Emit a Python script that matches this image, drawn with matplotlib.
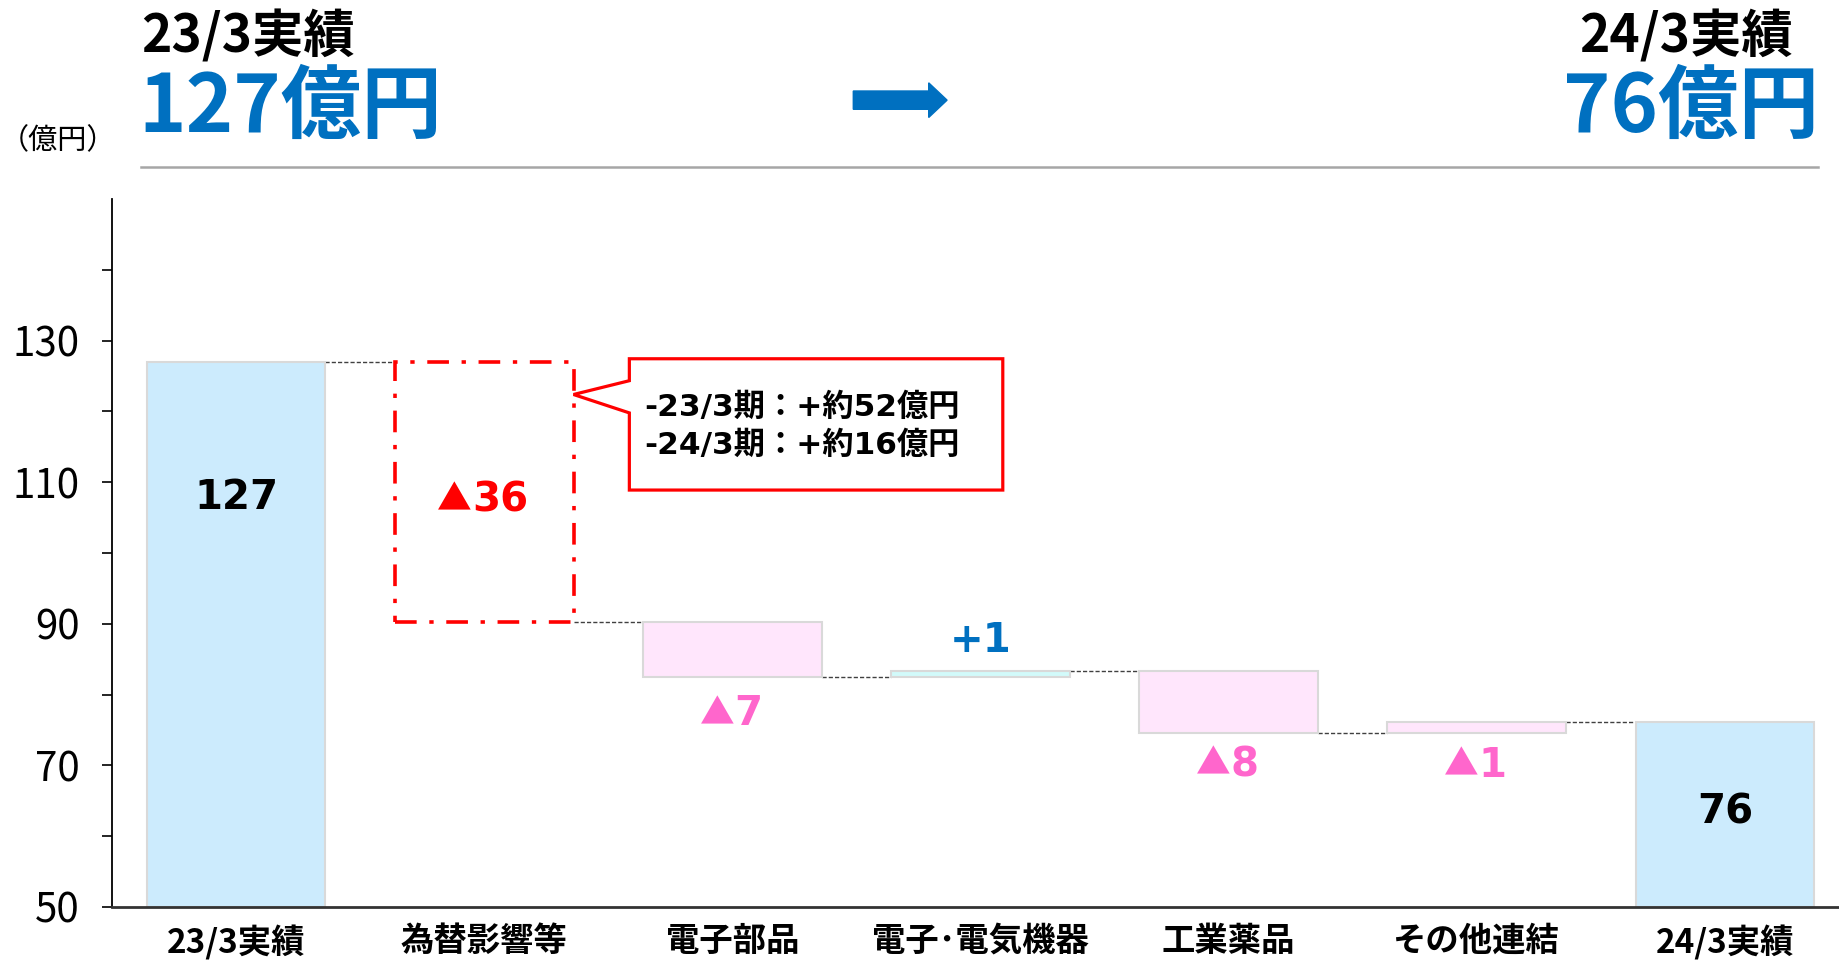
import numpy as np
import matplotlib.pyplot as plt
from matplotlib.patches import Rectangle, Polygon, FancyArrow

plt.rcParams['font.family'] = ['Noto Sans CJK JP', 'DejaVu Sans']
wide = ['DejaVu Sans', 'Noto Sans CJK JP']  # Verdana風の数字用

# データ
categories = ['23/3実績', '為替影響等', '電子部品', '電子･電気機器', '工業薬品', 'その他連結', '24/3実績']
# 各ステップ後の水準
levels = [127.0, 90.3, 82.5, 83.3, 74.6, 76.2]
bar_labels = ['127', '▲36', '▲7', '+1', '▲8', '▲1', '76']
label_y = [107.8, 107.4, 77.2, 87.6, 70.0, 69.9, 63.3]
label_colors = ['black', '#FF0000', '#FF66CC', '#0070C0', '#FF66CC', '#FF66CC', 'black']
callout_lines = ['-23/3期：+約52億円', '-24/3期：+約16億円']

blue_fill = '#CCEBFD'
pink_fill = '#FFE6FC'
cyan_fill = '#D2FAFA'
edge = '#D9D9D9'
blue_txt = '#0070C0'
red = '#FF0000'

fig = plt.figure(figsize=(18.39, 9.63), dpi=100)
ax = fig.add_axes([0.0609, 0.0582, 0.9391, 0.735])

x = np.arange(len(categories))
w = 0.72

# 合計バー
ax.bar(x[0], levels[0] - 50, bottom=50, width=w, color=blue_fill, edgecolor=edge, lw=1.5, zorder=2)
ax.bar(x[-1], levels[-1] - 50, bottom=50, width=w, color=blue_fill, edgecolor=edge, lw=1.5, zorder=2)

# 増減バー
for i in range(1, len(categories) - 1):
    lo, hi = sorted([levels[i - 1], levels[i]])
    if i == 1:
        ax.add_patch(Rectangle((x[i] - w / 2, lo), w, hi - lo, fill=False, edgecolor=red,
                               lw=2.6, linestyle=(0, (6, 3.5, 1.2, 3.5)), zorder=3))
        continue
    fc = cyan_fill if i == 3 else pink_fill
    ax.bar(x[i], hi - lo, bottom=lo, width=w, color=fc, edgecolor=edge, lw=1.5, zorder=2)

# つなぎの点線
for i in range(len(categories) - 1):
    yv = levels[i]
    ax.plot([x[i] + w / 2, x[i + 1] - w / 2], [yv, yv], color='#404040', lw=1,
            linestyle=(0, (3, 1.5)), zorder=1)

# ラベル（▲はCJKフォント、数字はDejaVu）
fs = 29
tri_w = 21.0          # ▲ の幅 (pt)
dig_w = 0.696 * fs    # 数字1文字の幅 (pt)
for i, t in enumerate(bar_labels):
    c = label_colors[i]
    if t.startswith('▲'):
        num = t[1:]
        left = -(tri_w + 2 + len(num) * dig_w) / 2
        ax.annotate('▲', (x[i], label_y[i]), xytext=(left + tri_w / 2, 0), textcoords='offset points',
                    ha='center', va='center', fontsize=25, family='Noto Sans CJK JP', color=c, zorder=5)
        ax.annotate(num, (x[i], label_y[i]), xytext=(left + tri_w + 2, 0), textcoords='offset points',
                    ha='left', va='center', fontsize=fs, family=wide, fontweight='bold', color=c, zorder=5)
    else:
        ax.text(x[i], label_y[i], t, ha='center', va='center', fontsize=fs, family=wide,
                fontweight='bold', color=c, zorder=5)

# 吹き出し
bx0, bx1, by0, by1 = 1.585, 3.09, 108.9, 127.45
pts = [(bx0, by1), (bx1, by1), (bx1, by0), (bx0, by0), (bx0, 119.8), (1.36, 122.4), (bx0, 124.35)]
ax.add_patch(Polygon(pts, closed=True, facecolor='white', edgecolor=red, lw=2.3, zorder=4,
                     joinstyle='miter'))
ax.text(1.645, 120.6, callout_lines[0], ha='left', va='center', fontsize=22.5, family=wide,
        fontweight='bold', zorder=5)
ax.text(1.645, 115.3, callout_lines[1], ha='left', va='center', fontsize=22.5, family=wide,
        fontweight='bold', zorder=5)

ax.set_xlim(-0.5, 6.46)
ax.set_ylim(50, 150)
ax.set_yticks([50, 70, 90, 110, 130])
ax.set_yticks(np.arange(60, 151, 20), minor=True)
ax.tick_params(axis='y', which='both', direction='out', length=7, width=1.2, labelsize=29, pad=16)
ax.tick_params(axis='x', length=0, pad=13)
ax.set_xticks(x)
ax.set_xticklabels(categories, fontsize=24, fontweight='bold')
for s in ['top', 'right']:
    ax.spines[s].set_visible(False)
ax.spines['left'].set_linewidth(1.3)
ax.spines['bottom'].set_linewidth(2)
ax.spines['bottom'].set_color('#333333')

# ヘッダー
fig.text(0.0, 0.853, '（億円）', fontsize=21, ha='left', va='center')
fig.text(0.077, 0.962, '23/3実績', fontsize=37, fontweight='bold', ha='left', va='center')
fig.text(0.075, 0.887, '127億円', fontsize=58, fontweight='bold', color=blue_txt, ha='left', va='center')
fig.text(0.975, 0.962, '24/3実績', fontsize=37, fontweight='bold', ha='right', va='center')
fig.text(0.989, 0.887, '76億円', fontsize=58, fontweight='bold', color=blue_txt, ha='right', va='center')
fig.add_artist(FancyArrow(0.464, 0.896, 0.051, 0, width=0.019, head_width=0.036, head_length=0.01,
                          length_includes_head=True, color=blue_txt, transform=fig.transFigure))
fig.add_artist(plt.Line2D([0.0767, 0.9886], [0.8266, 0.8266], color='#A6A6A6', lw=1.8,
                          transform=fig.transFigure))

fig.savefig('out.png', dpi=100)
